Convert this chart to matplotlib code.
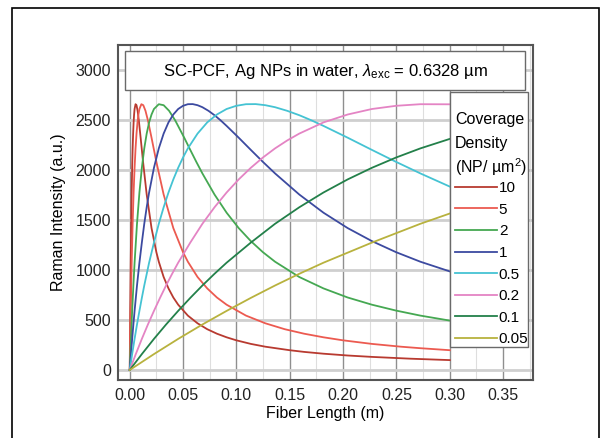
import matplotlib
matplotlib.use('Agg')
import matplotlib.pyplot as plt
from matplotlib.patches import Rectangle
from matplotlib.ticker import MultipleLocator

plt.rcParams['font.family'] = ['Liberation Sans', 'DejaVu Sans']
plt.rcParams['mathtext.fontset'] = 'custom'
plt.rcParams['mathtext.rm'] = 'Liberation Sans'
plt.rcParams['mathtext.it'] = 'Liberation Sans:italic'

# values (fiber length in m, intensity in a.u.)
x_10 = [0, 0.00023, 0.00045, 0.00091, 0.00136, 0.00182, 0.00227, 0.00272, 0.00318, 0.00363,
        0.00409, 0.00454, 0.00545, 0.00636, 0.00738, 0.00851, 0.01022, 0.01249, 0.01589,
        0.02043, 0.02497, 0.02724, 0.03178, 0.03632, 0.04086, 0.0454, 0.05448, 0.06356,
        0.07264, 0.08172, 0.0908, 0.09988, 0.1135, 0.12712, 0.14982, 0.16344, 0.1816,
        0.2043, 0.227, 0.26332, 0.300]
y_10 = [0, 311, 591, 1073, 1462, 1775, 2022, 2216, 2364, 2476,
        2555, 2610, 2658, 2648, 2592, 2497, 2323, 2081, 1755,
        1419, 1178, 1083, 930, 816, 725, 653, 544, 467,
        408, 363, 327, 297, 261, 233, 198, 181, 163,
        145, 131, 113, 99]

x_5 = [0, 0.00045, 0.00091, 0.00182, 0.00272, 0.00363, 0.00454, 0.00545, 0.00636, 0.00726,
       0.00817, 0.00908, 0.0109, 0.01271, 0.01476, 0.01703, 0.02043, 0.02497, 0.03178,
       0.04086, 0.04994, 0.05448, 0.06356, 0.07264, 0.08172, 0.0908, 0.10896, 0.12712,
       0.14528, 0.16344, 0.1816, 0.19976, 0.227, 0.25424, 0.2724, 0.300]
y_5 = [0, 311, 591, 1073, 1462, 1775, 2022, 2216, 2364, 2476,
       2555, 2610, 2658, 2648, 2592, 2497, 2323, 2081, 1755,
       1419, 1178, 1083, 930, 816, 725, 653, 544, 467,
       408, 363, 327, 297, 261, 233, 218, 198]

x_2 = [0, 0.00057, 0.00114, 0.00227, 0.00341, 0.00454, 0.00681, 0.00908, 0.01135, 0.01362,
       0.01589, 0.01816, 0.02043, 0.0227, 0.02724, 0.03178, 0.03689, 0.04256, 0.05108,
       0.05675, 0.06243, 0.0681, 0.07945, 0.0908, 0.10215, 0.1135, 0.12485, 0.1362,
       0.1589, 0.1816, 0.2043, 0.227, 0.2497, 0.2724, 0.300]
y_2 = [0, 159, 311, 591, 845, 1073, 1462, 1775, 2022, 2216,
       2364, 2476, 2555, 2610, 2658, 2648, 2592, 2497, 2323,
       2201, 2081, 1966, 1755, 1573, 1419, 1289, 1178, 1083,
       930, 816, 725, 653, 594, 544, 494]

x_1 = [0, 0.00114, 0.00227, 0.00341, 0.00454, 0.00681, 0.00908, 0.01135, 0.01362, 0.01589,
       0.01816, 0.0227, 0.02724, 0.03178, 0.03632, 0.04086, 0.0454, 0.04994, 0.05448,
       0.05902, 0.06356, 0.0681, 0.07378, 0.07945, 0.08513, 0.0908, 0.10215, 0.1135,
       0.12485, 0.1362, 0.1589, 0.1816, 0.2043, 0.227, 0.2497, 0.2724, 0.300]
y_1 = [0, 159, 311, 455, 591, 845, 1073, 1274, 1462, 1627,
       1775, 2022, 2216, 2364, 2476, 2555, 2610, 2642, 2658,
       2659, 2648, 2628, 2592, 2548, 2497, 2441, 2323, 2201,
       2081, 1966, 1755, 1573, 1419, 1289, 1178, 1083, 986]

x_05 = [0, 0.00227, 0.00454, 0.00681, 0.00908, 0.01135, 0.01362, 0.01816, 0.0227, 0.02724,
        0.03178, 0.03632, 0.04086, 0.0454, 0.04994, 0.05448, 0.06356, 0.07264, 0.08172,
        0.0908, 0.09988, 0.10896, 0.11804, 0.12712, 0.1362, 0.14755, 0.1589, 0.17025,
        0.1816, 0.2043, 0.227, 0.2497, 0.2724, 0.300]
y_05 = [0, 159, 311, 455, 591, 721, 845, 1073, 1274, 1462,
        1627, 1775, 1906, 2022, 2125, 2216, 2364, 2476, 2555,
        2610, 2642, 2658, 2659, 2648, 2628, 2592, 2548, 2497,
        2441, 2323, 2201, 2081, 1966, 1834]

x_02 = [0, 0.00568, 0.01135, 0.01703, 0.0227, 0.02838, 0.03405, 0.03973, 0.0454, 0.05675,
        0.0681, 0.07945, 0.0908, 0.10215, 0.1135, 0.12485, 0.1362, 0.14755, 0.1589,
        0.1816, 0.2043, 0.227, 0.2497, 0.2724, 0.300]
y_02 = [0, 159, 311, 455, 591, 721, 845, 962, 1073, 1274,
        1462, 1627, 1775, 1906, 2022, 2125, 2216, 2295, 2364,
        2476, 2555, 2610, 2642, 2658, 2657]

x_01 = [0, 0.01135, 0.0227, 0.03405, 0.0454, 0.05675, 0.0681, 0.07945, 0.0908, 0.1135,
        0.1362, 0.1589, 0.1816, 0.2043, 0.227, 0.2497, 0.2724, 0.300]
y_01 = [0, 159, 311, 455, 591, 721, 845, 962, 1073, 1274,
        1462, 1627, 1775, 1906, 2022, 2125, 2216, 2311]

x_005 = [0, 0.0227, 0.0454, 0.0681, 0.0908, 0.1135, 0.1362, 0.1589, 0.1816, 0.227,
         0.2724, 0.300]
y_005 = [0, 159, 311, 455, 591, 721, 845, 962, 1073, 1274,
         1462, 1565]

labels = ['10', '5', '2', '1', '0.5', '0.2', '0.1', '0.05']
colors = ['#b83a30', '#ec5a50', '#45a852', '#3c4aa0', '#45c3d3', '#e484c4', '#23804a', '#b8b23e']
legend_title = ['Coverage', 'Density', '(NP/ µm$^2$)']

series = [(x_10, y_10), (x_5, y_5), (x_2, y_2), (x_1, y_1),
          (x_05, y_05), (x_02, y_02), (x_01, y_01), (x_005, y_005)]

fig = plt.figure(figsize=(6.09, 4.38), dpi=100)
ax = fig.add_axes([118 / 609, 1 - 380 / 438, 415 / 609, 335 / 438])

# outer frame around the whole picture
fig.patches.append(Rectangle((12 / 609, -0.05), 587 / 609, 1.05 - 8 / 438,
                             transform=fig.transFigure, fill=False,
                             edgecolor='black', linewidth=1.2))

for (xs, ys), lab, col in zip(series, labels, colors):
    ax.plot(xs, ys, color=col, linewidth=1.3, label=lab, zorder=3)

ax.set_xlim(-0.011, 0.378)
ax.set_ylim(-100, 3250)
ax.xaxis.set_minor_locator(MultipleLocator(0.025))
ax.yaxis.set_major_locator(MultipleLocator(500))
ax.set_xticks([0, 0.05, 0.10, 0.15, 0.20, 0.25, 0.30, 0.35])
ax.set_xticklabels(['0.00', '0.05', '0.10', '0.15', '0.20', '0.25', '0.30', '0.35'])

# grid: thick light horizontal lines, darker vertical lines, faint minor verticals
ax.grid(axis='y', which='major', color='#cfcfcf', linewidth=2.0, zorder=0)
ax.grid(axis='x', which='major', color='#8f8f8f', linewidth=1.0, zorder=0)
ax.grid(axis='x', which='minor', color='#dedede', linewidth=0.8, zorder=0)
ax.set_axisbelow(True)

ax.tick_params(which='both', length=0, labelsize=11.5, colors='#222222')
ax.tick_params(axis='x', pad=6)
ax.tick_params(axis='y', pad=5)
for sp in ax.spines.values():
    sp.set_color('#555555')
    sp.set_linewidth(1.5)

ax.set_xlabel('Fiber Length (m)', fontsize=11.5, labelpad=2)
ax.set_ylabel('Raman Intensity (a.u.)', fontsize=11.5, labelpad=7)

# title box inside the axes
ax.add_patch(Rectangle((0.017, 0.866), 0.964, 0.116, transform=ax.transAxes,
                       facecolor='white', edgecolor='#6a6a6a', linewidth=1.0, zorder=4))
ax.text(0.499, 0.922, r'SC-PCF, Ag NPs in water, $\lambda_{\mathrm{exc}}$ = 0.6328 µm',
        transform=ax.transAxes, ha='center', va='center', fontsize=12, zorder=5)

# legend: frame and title lines placed by hand, entries from ax.legend
ax.add_patch(Rectangle((0.800, 0.0985), 0.188, 0.7615, transform=ax.transAxes,
                       facecolor='white', edgecolor='#6a6a6a', linewidth=1.0, zorder=5))
for line, ypos in zip(legend_title, [0.782, 0.710, 0.642]):
    ax.text(0.812, ypos, line, transform=ax.transAxes, ha='left', va='center_baseline',
            fontsize=11.5, zorder=6)

leg = ax.legend(loc='upper left', bbox_to_anchor=(0.812, 0.594), borderaxespad=0,
                fontsize=11, frameon=False, handlelength=2.75, handletextpad=0.12,
                labelspacing=0.5, borderpad=0)
leg.set_zorder(6)

plt.savefig('out.png', dpi=100)
